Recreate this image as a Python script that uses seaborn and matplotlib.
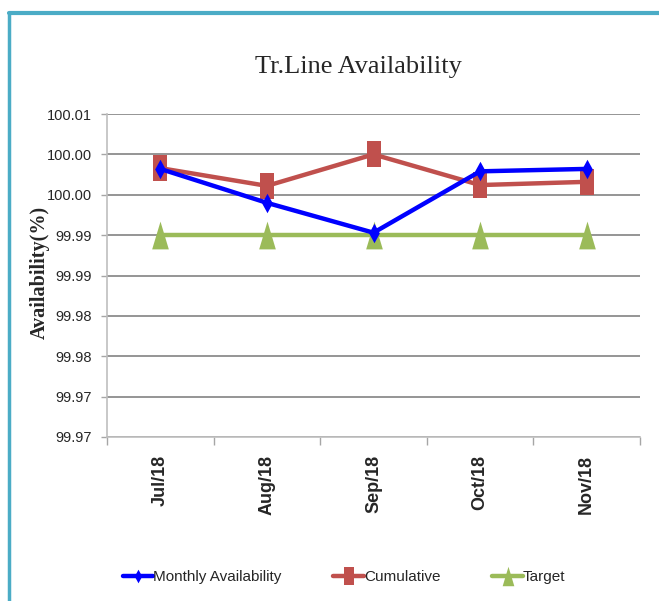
import matplotlib
matplotlib.use("Agg")
import matplotlib.pyplot as plt
from matplotlib.lines import Line2D
import seaborn as sns
import pandas as pd
import numpy as np

categories = ["Jul/18", "Aug/18", "Sep/18", "Oct/18", "Nov/18"]
monthly = [99.9982, 99.9940, 99.9903, 99.9979, 99.9982]
cumulative = [99.9983, 99.9961, 100.0000, 99.9962, 99.9966]
target = [99.99, 99.99, 99.99, 99.99, 99.99]
ytick_vals = [99.965, 99.970, 99.975, 99.980, 99.985, 99.990, 99.995, 100.000, 100.005]
ytick_labels = ["99.97", "99.97", "99.98", "99.98", "99.99", "99.99", "100.00", "100.00", "100.01"]

sns.set_theme(style="white")
sans = ["Liberation Sans", "DejaVu Sans"]

fig = plt.figure(figsize=(6.59, 6.01), dpi=100)
ax = fig.add_axes([107/659, 1-437/601, (640-107)/659, (437-114)/601])

pos = list(range(len(categories)))
df = pd.DataFrame({"pos": pos * 3,
                   "value": monthly + cumulative + target,
                   "series": ["Monthly Availability"] * 5 + ["Cumulative"] * 5 + ["Target"] * 5})

diamond = [(0, -1), (0.55, 0), (0, 1), (-0.55, 0), (0, -1)]
square = [(-0.55, -1), (0.55, -1), (0.55, 1), (-0.55, 1), (-0.55, -1)]
tri = [(-0.6, -1), (0.6, -1), (0, 1), (-0.6, -1)]

styles = {
    "Target": ("#9BBB59", tri, 20),
    "Cumulative": ("#C0504D", square, 19),
    "Monthly Availability": ("#0000FF", diamond, 14),
}
order = ["Monthly Availability", "Cumulative", "Target"]
for name in ["Target", "Cumulative", "Monthly Availability"]:
    col, mk, ms = styles[name]
    sub = df[df["series"] == name]
    sns.lineplot(data=sub, x="pos", y="value", ax=ax, color=col, linewidth=3.2,
                 marker=mk, markersize=ms, markeredgewidth=0, legend=False)

ax.set_xlim(-0.5, 4.5)
ax.set_ylim(99.965, 100.005)
ax.set_yticks(ytick_vals)
ax.set_yticklabels(ytick_labels, family=sans, fontsize=10.5)
ax.yaxis.grid(True, color="#8C8C8C", linewidth=1.3)
ax.set_axisbelow(True)

ax.set_xticks(np.arange(-0.5, 5, 1.0))
ax.set_xticklabels([])
ax.set_xticks(pos, minor=True)
ax.set_xticklabels(categories, minor=True, rotation=90, fontweight="bold",
                   fontsize=13, family=sans, va="top", ha="center")
ax.tick_params(axis="x", which="major", length=6, color="#A6A6A6", width=1, direction="out", bottom=True)
ax.tick_params(axis="x", which="minor", length=0, pad=13)
ax.tick_params(axis="y", length=4, color="#A6A6A6", width=1, direction="out", left=True, pad=7)
for s in ["top", "right"]:
    ax.spines[s].set_visible(False)
for s in ["left", "bottom"]:
    ax.spines[s].set_color("#BFBFBF")
    ax.spines[s].set_linewidth(1.2)
ax.set_xlabel("")
ax.set_ylabel("")

fig.text(358/659, 1-67/601, "Tr.Line Availability", family="Liberation Serif",
         fontsize=19, ha="center", va="center")
fig.text(40/659, 1-272/601, "Availability(%)", family="Liberation Serif", fontweight="bold",
         fontsize=14.5, rotation=90, ha="center", va="center")

handles = []
for name in order:
    col, mk, ms = styles[name]
    handles.append(Line2D([0], [0], color=col, linewidth=3.2, marker=mk,
                          markersize=ms * 0.7, markeredgewidth=0))
fig.legend(handles, order, loc="center", bbox_to_anchor=(344/659, 1-577/601), ncol=3,
           frameon=False, prop={"family": sans, "size": 11}, handlelength=2.0,
           handletextpad=0.0, columnspacing=3.4)

# outer frame (teal)
fig.add_artist(Line2D([9/659, 1.0], [1-13/601, 1-13/601], transform=fig.transFigure,
                      color="#4BACC6", linewidth=3))
fig.add_artist(Line2D([9/659, 9/659], [0, 1-13/601], transform=fig.transFigure,
                      color="#4BACC6", linewidth=2.5))

fig.savefig("out.png", dpi=100)
